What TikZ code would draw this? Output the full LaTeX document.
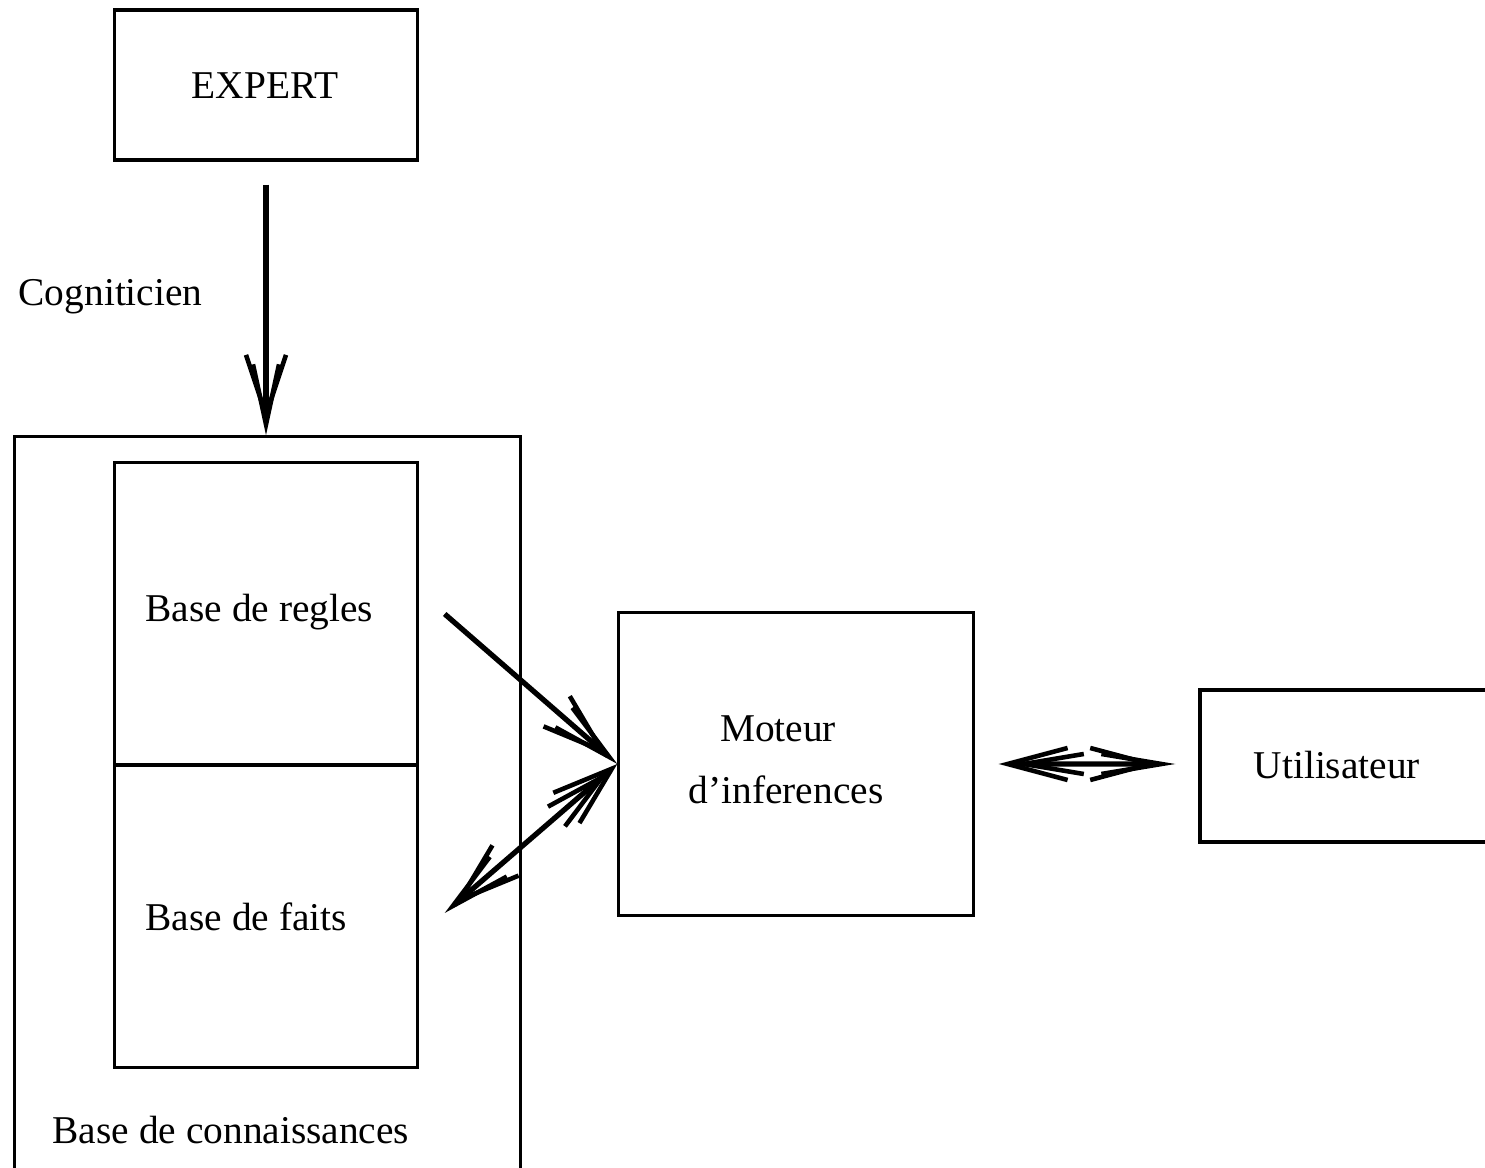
\documentclass[tikz,border=0pt]{standalone}
\usepackage{fontspec}
\setmainfont{Liberation Serif}
\usetikzlibrary{arrows.meta}
\begin{document}
\begin{tikzpicture}[x=0.01cm,y=-0.01cm,
  box/.style={draw,line width=0.9pt,rectangle,inner sep=0pt},
  lbl/.style={font=\fontsize{11.2}{13}\selectfont,inner sep=0pt},
  tip/.style={line width=1.5pt},
  arr/.style={tip,-{Straight Barb[length=6mm,width=4mm,line width=1.3pt,sep=-6mm] Straight Barb[length=6mm,width=2.6mm,line width=1.3pt]}},
  darr/.style={tip,{Straight Barb[length=6mm,width=4mm,line width=1.3pt] Straight Barb[length=6mm,width=2.6mm,line width=1.3pt,sep=-6mm]}-{Straight Barb[length=6mm,width=4mm,line width=1.3pt,sep=-6mm] Straight Barb[length=6mm,width=2.6mm,line width=1.3pt]}},
  harr/.style={tip,{Straight Barb[length=6mm,width=3.2mm,line width=1.3pt] Straight Barb[length=6mm,width=2mm,line width=1.3pt,sep=-6mm]}-{Straight Barb[length=6mm,width=3.2mm,line width=1.3pt,sep=-6mm] Straight Barb[length=6mm,width=2mm,line width=1.3pt]}}
]
\clip (0,0) rectangle (1485,1168);
\fill[white] (0,0) rectangle (1485,1168);

\node[box,minimum width=3.02cm,minimum height=1.5cm] (expert) at (266,85) {};
\node[lbl] (expertt) at (265,86) {EXPERT};

\node[lbl,anchor=west] (cogn) at (18,297) {Cogniticien};

\node[box,minimum width=5.05cm,minimum height=7.6cm] (bigbox) at (267.5,817) {};
\node[box,minimum width=3.02cm,minimum height=3.02cm] (regles) at (266,614) {};
\node[box,minimum width=3.02cm,minimum height=3.02cm] (faits) at (266,916) {};
\node[lbl,anchor=west] (reglest) at (145,612) {Base de regles};
\node[lbl,anchor=west] (faitst) at (145,917) {Base de faits};
\node[lbl,anchor=west] (connt) at (52,1130) {Base de connaissances};

\node[box,minimum width=3.54cm,minimum height=3.02cm] (moteur) at (796,764) {};
\node[lbl] (moteurt1) at (778,729) {Moteur};
\node[lbl] (moteurt2) at (786,790) {d'inferences};

\node[box,minimum width=3.2cm,minimum height=1.52cm] (util) at (1360,766) {};
\node[lbl,anchor=west] (utilt) at (1253,765) {Utilisateur};

\draw[arr,shorten <=0.23cm] (expert.south) -- (expert.south |- bigbox.north);
\draw[arr] ([xshift=0.26cm]regles.east) -- (moteur.west);
\draw[darr] (moteur.west) -- ([xshift=0.26cm,yshift=0.03cm]faits.east);
\draw[harr] ([xshift=0.24cm]moteur.east) -- ([xshift=-0.23cm,yshift=0.02cm]util.west);
\end{tikzpicture}
\end{document}
